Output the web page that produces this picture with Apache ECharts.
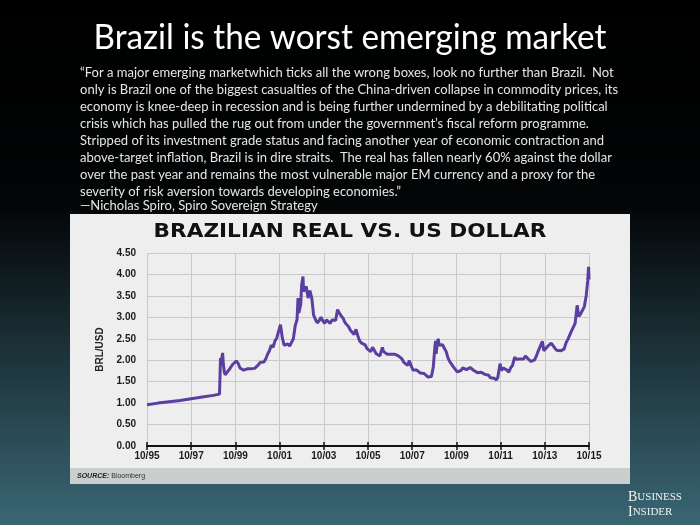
<!DOCTYPE html>
<html>
<head>
<meta charset="utf-8">
<script src="https://cdn.jsdelivr.net/npm/echarts@6/dist/echarts.min.js"></script>
<style>
  html, body { margin: 0; padding: 0; background: #000; }
  #main { width: 700px; height: 525px; }
</style>
</head>
<body>
<div id="main"></div>
<script>
// BRL per USD
const dates = [
  '1995-10-01', '1996-04-01', '1996-10-01', '1997-04-01', '1997-10-01', '1998-04-01', '1998-10-01', '1999-01-12',
  '1999-01-29', '1999-02-10', '1999-02-20', '1999-03-03', '1999-03-15', '1999-03-31', '1999-04-15', '1999-05-01',
  '1999-05-15', '1999-06-15', '1999-07-15', '1999-08-15', '1999-09-15', '1999-10-15', '1999-11-15', '1999-12-15',
  '2000-01-15', '2000-02-15', '2000-03-15', '2000-04-15', '2000-05-15', '2000-06-15', '2000-07-15', '2000-08-15',
  '2000-09-15', '2000-10-15', '2000-11-15', '2000-12-15',
  '2001-01-15', '2001-02-15', '2001-03-15', '2001-04-15', '2001-05-15', '2001-06-15', '2001-07-15', '2001-08-15',
  '2001-09-15', '2001-10-15', '2001-10-28', '2001-11-15', '2001-12-15',
  '2002-01-15', '2002-02-15', '2002-03-15', '2002-04-15', '2002-05-15', '2002-06-15', '2002-07-15', '2002-07-31',
  '2002-08-15', '2002-09-15', '2002-09-30', '2002-10-22', '2002-11-01', '2002-11-15', '2002-12-15',
  '2003-01-15', '2003-02-15', '2003-03-15', '2003-04-15', '2003-05-15', '2003-06-15', '2003-07-15', '2003-08-15',
  '2003-09-15', '2003-10-15', '2003-11-15', '2003-12-15',
  '2004-01-15', '2004-02-15', '2004-03-15', '2004-04-15', '2004-05-15', '2004-06-15', '2004-07-15', '2004-08-15',
  '2004-09-15', '2004-10-15', '2004-11-15', '2004-12-15',
  '2005-01-15', '2005-02-15', '2005-03-15', '2005-04-15', '2005-05-15', '2005-06-15', '2005-07-15', '2005-08-15',
  '2005-09-15', '2005-10-15', '2005-11-15', '2005-12-15',
  '2006-01-15', '2006-02-15', '2006-03-15', '2006-04-15', '2006-05-25', '2006-06-15', '2006-07-15', '2006-08-15',
  '2006-09-15', '2006-10-15', '2006-11-15', '2006-12-15',
  '2007-01-15', '2007-02-15', '2007-03-15', '2007-04-15', '2007-05-15', '2007-06-15', '2007-07-15', '2007-08-15',
  '2007-09-15', '2007-10-15', '2007-11-15', '2007-12-15',
  '2008-01-15', '2008-02-15', '2008-03-15', '2008-04-15', '2008-05-15', '2008-06-15', '2008-07-15', '2008-08-15',
  '2008-09-15', '2008-10-10', '2008-10-22', '2008-11-01', '2008-11-20', '2008-12-05', '2008-12-20',
  '2009-01-15', '2009-02-15', '2009-03-15', '2009-04-15', '2009-05-15', '2009-06-15', '2009-07-15', '2009-08-15',
  '2009-09-15', '2009-10-15', '2009-11-15', '2009-12-15',
  '2010-01-15', '2010-02-15', '2010-03-15', '2010-04-15', '2010-05-15', '2010-06-15', '2010-07-15', '2010-08-15',
  '2010-09-15', '2010-10-15', '2010-11-15', '2010-12-15',
  '2011-01-15', '2011-02-15', '2011-03-15', '2011-04-15', '2011-05-15', '2011-06-15', '2011-07-25', '2011-08-15',
  '2011-09-22', '2011-10-15', '2011-11-15', '2011-12-15',
  '2012-01-15', '2012-02-15', '2012-03-15', '2012-04-15', '2012-05-20', '2012-06-15', '2012-07-15', '2012-08-15',
  '2012-09-15', '2012-10-15', '2012-11-15', '2012-12-15',
  '2013-01-15', '2013-02-15', '2013-03-15', '2013-04-15', '2013-05-15', '2013-06-15', '2013-07-15', '2013-08-21',
  '2013-09-15', '2013-10-15', '2013-11-15', '2013-12-15',
  '2014-01-15', '2014-02-15', '2014-03-15', '2014-04-15', '2014-05-15', '2014-06-15', '2014-07-15', '2014-08-15',
  '2014-09-15', '2014-10-15', '2014-11-15', '2014-12-15',
  '2015-01-15', '2015-02-15', '2015-03-18', '2015-04-15', '2015-05-15', '2015-06-15', '2015-07-15', '2015-08-15',
  '2015-09-10', '2015-09-24', '2015-10-01'
]
const rates = [
  0.96, 1.00, 1.03, 1.06, 1.10, 1.14, 1.18, 1.21,
  2.05, 1.88, 2.05, 2.17, 1.90, 1.72, 1.66, 1.68,
  1.72, 1.77, 1.80, 1.90, 1.90, 1.98, 1.93, 1.82,
  1.80, 1.77, 1.74, 1.80, 1.84, 1.80, 1.79, 1.81,
  1.84, 1.89, 1.95, 1.95,
  1.96, 2.03, 2.14, 2.22, 2.35, 2.30, 2.45, 2.52,
  2.68, 2.83, 2.70, 2.52, 2.35,
  2.38, 2.38, 2.33, 2.33, 2.50, 2.80, 2.95, 3.45,
  3.10, 3.30, 3.75, 3.95, 3.60, 3.65, 3.72,
  3.45, 3.62, 3.45, 3.05, 2.95, 2.87, 2.92, 3.00,
  2.92, 2.86, 2.94, 2.90,
  2.86, 2.94, 2.90, 2.93, 3.18, 3.10, 3.03, 2.98,
  2.88, 2.83, 2.78, 2.70,
  2.68, 2.60, 2.72, 2.57, 2.45, 2.40, 2.38, 2.36,
  2.27, 2.27, 2.20, 2.30,
  2.26, 2.15, 2.15, 2.10, 2.30, 2.20, 2.18, 2.14,
  2.17, 2.14, 2.16, 2.14,
  2.13, 2.10, 2.08, 2.03, 1.95, 1.92, 1.88, 1.99,
  1.86, 1.77, 1.78, 1.77,
  1.76, 1.70, 1.73, 1.69, 1.65, 1.61, 1.57, 1.62,
  1.85, 2.30, 2.45, 2.15, 2.40, 2.50, 2.35,
  2.32, 2.36, 2.28, 2.20, 2.05, 1.96, 1.92, 1.84,
  1.80, 1.73, 1.73, 1.76,
  1.82, 1.85, 1.78, 1.75, 1.83, 1.80, 1.76, 1.76,
  1.71, 1.68, 1.72, 1.68,
  1.67, 1.66, 1.65, 1.59, 1.61, 1.58, 1.54, 1.60,
  1.92, 1.76, 1.82, 1.85,
  1.77, 1.72, 1.82, 1.88, 2.07, 2.02, 2.03, 2.03,
  2.02, 2.03, 2.10, 2.05,
  2.01, 1.97, 2.00, 2.01, 2.10, 2.22, 2.25, 2.44,
  2.22, 2.20, 2.32, 2.35,
  2.40, 2.34, 2.28, 2.23, 2.22, 2.22, 2.23, 2.26,
  2.40, 2.48, 2.58, 2.68,
  2.64, 2.86, 3.28, 3.02, 3.08, 3.10, 3.25, 3.50,
  3.85, 4.18, 3.88
]
const xLabels = ['10/95', '10/97', '10/99', '10/01', '10/03', '10/05', '10/07', '10/09', '10/11', '10/13', '10/15']

const slideTitle = 'Brazil is the worst emerging market'
const quoteLines = [
  '\u201cFor a major emerging marketwhich ticks all the wrong boxes, look no further than Brazil.  Not',
  'only is Brazil one of the biggest casualties of the China-driven collapse in commodity prices, its',
  'economy is knee-deep in recession and is being further undermined by a debilitating political',
  'crisis which has pulled the rug out from under the government\u2019s fiscal reform programme.',
  'Stripped of its investment grade status and facing another year of economic contraction and',
  'above-target inflation, Brazil is in dire straits.  The real has fallen nearly 60% against the dollar',
  'over the past year and remains the most vulnerable major EM currency and a proxy for the',
  'severity of risk aversion towards developing economies.\u201d'
]
const attribution = '\u2014Nicholas Spiro, Spiro Sovereign Strategy'

// months since 10/95, so ticks land on every second October
function monthIndex(s) {
  const [y, m, d] = s.split('-').map(Number)
  return (y - 1995) * 12 + (m - 10) + (d - 1) / 30
}
const seriesData = dates.map((d, i) => [monthIndex(d), rates[i]])

const chart = echarts.init(document.getElementById('main'))
const boldFont = "'Liberation Sans', Arial, sans-serif"
const quoteFont = "14px Lato, 'Open Sans', sans-serif"

chart.setOption({
  animation: false,
  graphic: [
    {
      type: 'rect', z: -10,
      shape: { x: 0, y: 0, width: 700, height: 525 },
      style: {
        fill: {
          type: 'linear', x: 0, y: 0, x2: 0, y2: 1,
          colorStops: [
            { offset: 0, color: '#000000' },
            { offset: 0.38, color: '#020405' },
            { offset: 1, color: '#3a6674' }
          ]
        }
      }
    },
    // light panel behind the chart
    { type: 'rect', z: -9, shape: { x: 70, y: 214, width: 560, height: 270 }, style: { fill: '#eeeeee' } },
    { type: 'rect', z: -8, shape: { x: 70, y: 468, width: 560, height: 16 }, style: { fill: '#cbcecf' } },
    {
      type: 'text', z: 10, x: 77, y: 476,
      style: {
        text: '{b|SOURCE:} Bloomberg',
        fill: '#333', font: "7px 'Liberation Sans', sans-serif", verticalAlign: 'middle',
        rich: { b: { fontWeight: 'bold', fontStyle: 'italic', fontSize: 7, fill: '#222' } }
      }
    },
    {
      type: 'text', z: 10, x: 350, y: 232, scaleX: 1.08,
      style: {
        text: 'BRAZILIAN REAL VS. US DOLLAR', fill: '#111',
        font: "bold 20px 'DejaVu Sans', sans-serif", align: 'center', verticalAlign: 'middle'
      }
    },
    {
      type: 'text', z: 10, x: 350, y: 38, scaleX: 0.95,
      style: {
        text: slideTitle, fill: '#ffffff',
        font: "35px Lato, 'Open Sans', sans-serif", align: 'center', verticalAlign: 'middle'
      }
    },
    {
      type: 'text', z: 10, x: 80, y: 64, scaleX: 0.93,
      style: {
        text: quoteLines.join('\n'), fill: '#e6e6e6', lineHeight: 17,
        font: quoteFont, verticalAlign: 'top'
      }
    },
    {
      type: 'text', z: 10, x: 80, y: 205, scaleX: 0.93,
      style: { text: attribution, fill: '#e6e6e6', font: quoteFont, verticalAlign: 'middle' }
    },
    {
      type: 'text', z: 10, x: 628, y: 490,
      style: {
        text: '{a|B}{b|USINESS}\n{a|I}{b|NSIDER}', fill: '#f2f2f2', lineHeight: 15,
        font: "11px 'Liberation Serif', serif",
        rich: {
          a: { fontSize: 14, fontFamily: 'Liberation Serif', fill: '#f2f2f2', lineHeight: 15 },
          b: { fontSize: 11, fontFamily: 'Liberation Serif', fill: '#f2f2f2', lineHeight: 15 }
        }
      }
    }
  ],
  grid: { left: 147, right: 111, top: 253, bottom: 79 },
  xAxis: [
    {
      type: 'value', min: 0, max: 240, interval: 24,
      axisLine: { onZero: false, lineStyle: { color: '#111', width: 2 } },
      axisTick: { length: 4, lineStyle: { color: '#111', width: 1.5 } },
      axisLabel: {
        margin: 5, color: '#1a1a1a', fontWeight: 'bold', fontSize: 10, fontFamily: boldFont,
        formatter: (v) => xLabels[Math.round(v / 24)]
      },
      splitLine: { show: true, lineStyle: { color: '#c9c9c9', width: 1 } }
    },
    {
      // ticks on the inner side of the axis too
      type: 'value', min: 0, max: 240, interval: 24, position: 'bottom',
      axisLine: { show: false },
      axisTick: { inside: true, length: 4, lineStyle: { color: '#111', width: 1.5 } },
      axisLabel: { show: false },
      splitLine: { show: false }
    }
  ],
  yAxis: {
    type: 'value', min: 0, max: 4.5, interval: 0.5,
    name: 'BRL/USD', nameLocation: 'middle', nameGap: 36,
    nameTextStyle: { color: '#222', fontSize: 10, fontWeight: 'bold', fontFamily: "'Liberation Sans Narrow', " + boldFont },
    axisLine: { show: false },
    axisTick: { show: false },
    axisLabel: {
      margin: 11, color: '#1a1a1a', fontWeight: 'bold', fontSize: 10, fontFamily: boldFont,
      formatter: (v) => v.toFixed(2)
    },
    splitLine: { lineStyle: { color: '#c9c9c9', width: 1 } }
  },
  series: [
    {
      type: 'line',
      data: seriesData,
      showSymbol: false,
      lineStyle: { color: '#5a3ea0', width: 3 },
      z: 3
    }
  ]
})
</script>
</body>
</html>
